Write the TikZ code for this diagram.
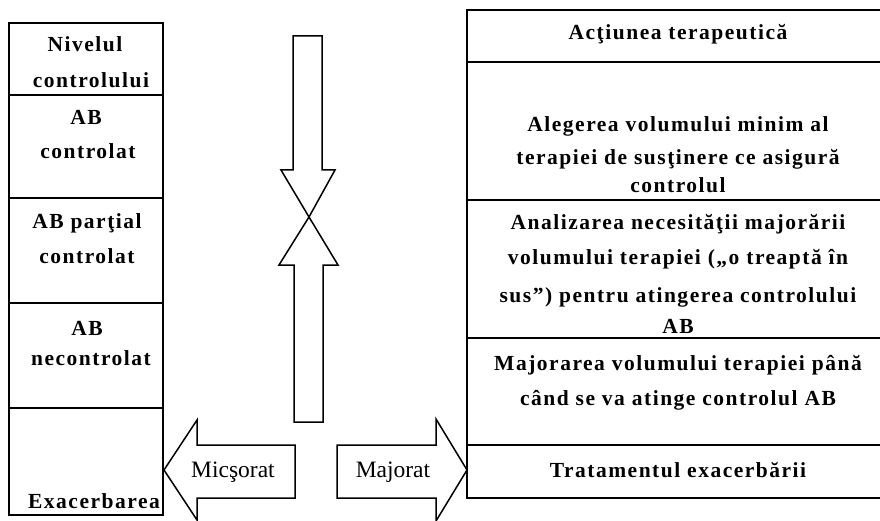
\documentclass[tikz,border=0pt]{standalone}
\usepackage{fontspec}
\setmainfont{Liberation Serif}
\newfontfamily\wideb[LetterSpace=7]{Liberation Serif}
\begin{document}
\begin{tikzpicture}[x=1pt,y=-1pt,
  frame/.style={line width=1.5pt},
  arr/.style={line width=1.5pt, fill=white, line join=miter},
  lb/.style={font=\wideb\fontsize{21.5}{26}\selectfont\bfseries, anchor=base, inner sep=0pt},
  lr/.style={font=\fontsize{23.5}{28}\selectfont, anchor=base, inner sep=0pt}]
\useasboundingbox[fill=white] (0,0) rectangle (880,521);
% left column
\draw[frame] (9,23) rectangle (163,515);
\foreach \yy in {95,198,303,408} \draw[frame] (9,\yy) -- (163,\yy);
% right column
\draw[frame] (880,10) -- (467,10) -- (467,498) -- (880,498);
\foreach \yy in {62,200,338,445} \draw[frame] (467,\yy) -- (880,\yy);
% vertical arrows
\draw[arr] (293,36) -- (322,36) -- (322,170) -- (335,170) -- (309,217) -- (281,170) -- (293,170) -- cycle;
\draw[arr] (294,422) -- (323,422) -- (323,265) -- (338,265) -- (309,217) -- (279,265) -- (294,265) -- cycle;
% horizontal arrows
\draw[arr] (295,445) -- (197,445) -- (197,420) -- (164,470) -- (197,520) -- (197,498) -- (295,498) -- cycle;
\draw[arr] (337,445) -- (436,445) -- (436,419) -- (467,470) -- (436,521) -- (436,498) -- (337,498) -- cycle;
% left texts
\node[lb] (t1a) at (85,52) {Nivelul};
\node[lb] (t1b) at (91,88) {controlului};
\node[lb] (t2a) at (86,125) {AB};
\node[lb] (t2b) at (88,159) {controlat};
\node[lb] (t3a) at (87,229) {AB parţial};
\node[lb] (t3b) at (87,264) {controlat};
\node[lb] (t4a) at (87,335) {AB};
\node[lb] (t4b) at (91,365) {necontrolat};
\node[lb] (t5) at (94,508) {Exacerbarea};
% right texts
\node[lb] (r1) at (678,40) {Acţiunea terapeutică};
\node[lb] (r2a) at (678,132) {Alegerea volumului minim al};
\node[lb] (r2b) at (678,165) {terapiei de susţinere ce asigură};
\node[lb] (r2c) at (678,193) {controlul};
\node[lb] (r3a) at (678,230) {Analizarea necesităţii majorării};
\node[lb] (r3b) at (678,265) {volumului terapiei („o treaptă în};
\node[lb] (r3c) at (678,302) {sus”) pentru atingerea controlului};
\node[lb] (r3d) at (678,333) {AB};
\node[lb] (r4a) at (678,370) {Majorarea volumului terapiei până};
\node[lb] (r4b) at (678,405) {când se va atinge controlul AB};
\node[lb] (r5) at (678,477) {Tratamentul exacerbării};
% arrow labels
\node[lr] (mic) at (233,477) {Micşorat};
\node[lr] (maj) at (393,477) {Majorat};
\end{tikzpicture}
\end{document}
